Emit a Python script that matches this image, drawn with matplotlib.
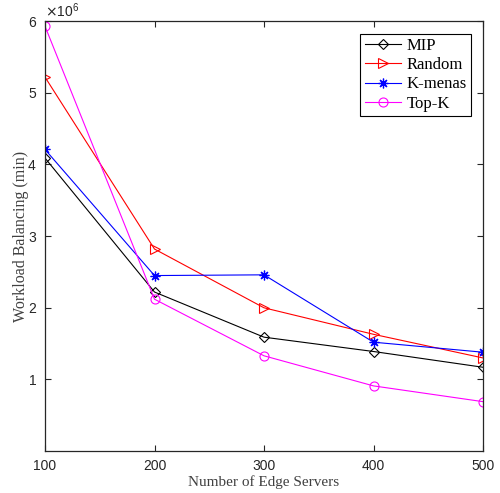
import matplotlib
matplotlib.use("Agg")
import matplotlib.pyplot as plt
from matplotlib.ticker import ScalarFormatter

servers = [100, 200, 300, 400, 500]
mip = [4.09e6, 2.22e6, 1.59e6, 1.39e6, 1.17e6]
random_ = [5.22e6, 2.82e6, 2.00e6, 1.63e6, 1.30e6]
kmenas = [4.21e6, 2.45e6, 2.46e6, 1.52e6, 1.38e6]
topk = [5.93e6, 2.12e6, 1.33e6, 0.91e6, 0.69e6]
xticks = [100, 200, 300, 400, 500]
yticks = [1e6, 2e6, 3e6, 4e6, 5e6, 6e6]

fig = plt.figure(figsize=(5, 4.93), dpi=100)
ax = fig.add_axes([0.09, 0.085, 0.876, 0.872])

lw = 0.8
ax.plot(servers, mip, color='black', marker='D', markersize=5, mfc='none', mew=0.8, lw=lw, label='MIP')
ax.plot(servers, random_, color='red', marker='>', markersize=7, mfc='none', mew=0.8, lw=lw, label='Random')
ax.plot(servers, kmenas, color='blue', marker=(8, 2, 0), markersize=7, mew=0.9, lw=lw, label='K-menas')
ax.plot(servers, topk, color='magenta', marker='o', markersize=6.5, mfc='none', mew=0.8, lw=lw, label='Top-K')

ax.set_xlim(100, 500)
ax.set_ylim(0, 6e6)
ax.set_xticks(xticks)
ax.set_yticks(yticks)
fmt = ScalarFormatter(useMathText=True)
fmt.set_powerlimits((0, 0))
ax.yaxis.set_major_formatter(fmt)

tickfont = 'Liberation Sans'
for lab in ax.get_xticklabels() + ax.get_yticklabels():
    lab.set_fontfamily(tickfont)
    lab.set_fontsize(10)
    lab.set_color('#262626')
ax.yaxis.get_offset_text().set_fontfamily(tickfont)
ax.yaxis.get_offset_text().set_fontsize(10)
ax.yaxis.get_offset_text().set_color('#262626')

ax.tick_params(direction='in', top=True, right=True, length=4, width=0.8, pad=6, colors='#262626')
for s in ax.spines.values():
    s.set_linewidth(0.9)
    s.set_color('#262626')

ax.set_xlabel('Number of Edge Servers', fontfamily='Liberation Serif', fontsize=11, color='#404040', labelpad=1)
ax.set_ylabel('Workload Balancing (min)', fontfamily='Liberation Serif', fontsize=11.5, color='#404040', labelpad=-1)

leg = ax.legend(loc='upper right', prop={'family': 'Liberation Serif', 'size': 12},
                frameon=True, fancybox=False, edgecolor='black', framealpha=1,
                handlelength=2.2, borderpad=0.25, labelspacing=0.2, handletextpad=0.3,
                borderaxespad=0, bbox_to_anchor=(0.972, 0.971))
leg.get_frame().set_linewidth(0.8)

fig.savefig('out.png', dpi=100)
